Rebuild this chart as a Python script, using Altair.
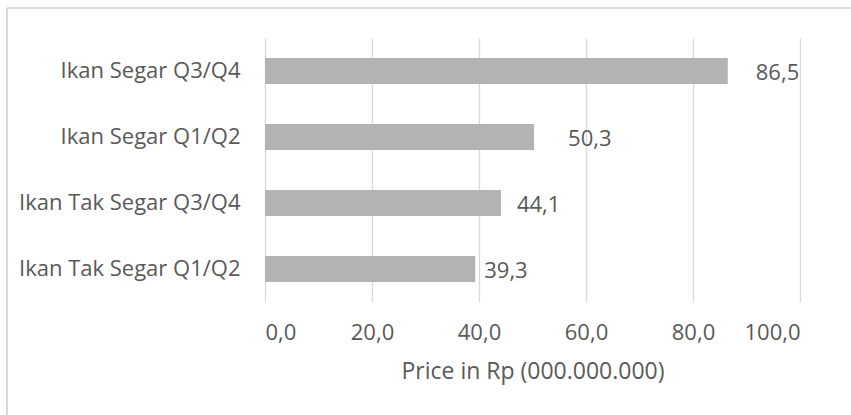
import altair as alt
import pandas as pd

# Categories (top to bottom) and prices in Rp (000.000.000)
categories = ["Ikan Segar Q3/Q4", "Ikan Segar Q1/Q2", "Ikan Tak Segar Q3/Q4", "Ikan Tak Segar Q1/Q2"]
prices = [86.5, 50.3, 44.1, 39.3]
label_texts = ["86,5", "50,3", "44,1", "39,3"]

# Horizontal nudge of each value label away from its bar end (pixels)
label_dx = {"Ikan Segar Q3/Q4": 28, "Ikan Segar Q1/Q2": 34,
            "Ikan Tak Segar Q3/Q4": 16, "Ikan Tak Segar Q1/Q2": 9}

df = pd.DataFrame({"category": categories, "price": prices, "label": label_texts})

FONT = "Open Sans"
FS = 22
TEXT = "#595959"
GRID = "#D9D9D9"

x_enc = alt.X(
    "price:Q",
    scale=alt.Scale(domain=[0, 100], nice=False),
    axis=alt.Axis(
        values=[0, 20, 40, 60, 80, 100],
        labelExpr="replace(format(datum.value, '.1f'), '.', ',')",
        title="Price in Rp (000.000.000)",
        grid=True, gridColor=GRID, gridWidth=1.3,
        domain=False, ticks=False,
        labelPadding=20, labelFont=FONT, labelFontSize=FS, labelColor=TEXT,
        titleFont=FONT, titleFontSize=23, titleColor=TEXT, titleFontWeight="normal",
        titlePadding=17,
    ),
)
y_enc = alt.Y(
    "category:N",
    sort=categories,
    scale=alt.Scale(paddingInner=0.6, paddingOuter=0.3),
    axis=alt.Axis(
        title=None, domain=False, ticks=False, grid=False, labelLimit=400,
        labelPadding=25, labelFont=FONT, labelFontSize=FS, labelColor=TEXT,
    ),
)

base = alt.Chart(df)

bars = base.mark_bar(color="#B3B3B3", size=26).encode(x=x_enc, y=y_enc)

labels = [
    base.transform_filter(alt.datum.category == c)
    .mark_text(align="left", baseline="middle", dx=dx, dy=2, font=FONT, fontSize=FS, color=TEXT)
    .encode(x="price:Q", y=alt.Y("category:N", sort=categories), text="label:N")
    for c, dx in label_dx.items()
]

# Frame lines along the top and left edge of the chart area
frame_top = base.mark_rule(color=GRID, strokeWidth=1.5).encode(
    x=alt.value(-258), x2=alt.value(600), y=alt.value(-30))
frame_left = base.mark_rule(color=GRID, strokeWidth=1.5).encode(
    x=alt.value(-258), y=alt.value(-30), y2=alt.value(400))

chart = alt.layer(frame_top, frame_left, bars, *labels).properties(
    width=535, height=264,
    autosize=alt.AutoSizeParams(type="none"),
    padding={"left": 265, "top": 38, "right": 51, "bottom": 113},
    background="white",
).configure_view(stroke=None)

chart.save("out.html", embed_options={"renderer": "svg", "actions": False})
